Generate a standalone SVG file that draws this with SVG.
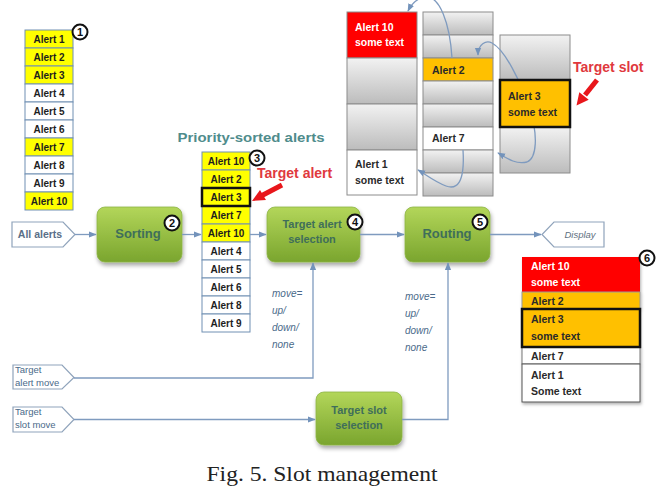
<svg xmlns="http://www.w3.org/2000/svg" width="660" height="486" viewBox="0 0 660 486">
<defs>
<linearGradient id="gg" x1="0" y1="0" x2="0" y2="1"><stop offset="0" stop-color="#b3d65a"/><stop offset="1" stop-color="#7aa52e"/></linearGradient>
<linearGradient id="gray" x1="0" y1="0" x2="0" y2="1"><stop offset="0" stop-color="#f2f2f2"/><stop offset="1" stop-color="#bcbcbc"/></linearGradient>
<filter id="sh" x="-20%" y="-20%" width="150%" height="160%"><feDropShadow dx="1" dy="3" stdDeviation="2" flood-color="#000" flood-opacity="0.35"/></filter>
<filter id="sh2" x="-20%" y="-20%" width="150%" height="150%"><feDropShadow dx="1" dy="2" stdDeviation="1.5" flood-color="#000" flood-opacity="0.3"/></filter>
<marker id="ar" viewBox="0 0 10 10" refX="9" refY="5" markerWidth="6" markerHeight="6" orient="auto-start-reverse"><path d="M0,1 L10,5 L0,9 z" fill="#7393bb"/></marker>
<style>
.lst{stroke:#7190b3;stroke-width:1}
.y{fill:#ffff00}.w{fill:#fff}.or{fill:#ffc000}.rd{fill:#ff0000}
.t{font-family:"Liberation Sans",Arial,sans-serif;font-weight:bold;font-size:10px;fill:#1e1e1e;text-anchor:middle}
.tl{font-family:"Liberation Sans",Arial,sans-serif;font-weight:bold;font-size:10.5px;fill:#2a2a2a}
.tw{fill:#fff}
.grn{fill:url(#gg);stroke:#8db445;stroke-width:0.8;filter:url(#sh)}
.gt{font-family:"Liberation Sans",Arial,sans-serif;font-weight:bold;fill:#3f6e5a;text-anchor:middle}
.num circle{fill:#fff;stroke:#111;stroke-width:2}
.num text{font-family:"Liberation Sans",Arial,sans-serif;font-weight:bold;font-size:11px;fill:#111;text-anchor:middle}
.con{fill:none;stroke:#7f9bbf;stroke-width:1.3}
.cell{fill:url(#gray);stroke:#8c8c8c;stroke-width:1}
.tag{fill:#fff;stroke:#8fa3bb;stroke-width:1.2}
.tg{font-family:"Liberation Sans",Arial,sans-serif;font-size:9.5px;fill:#4a6a8a}
.mv{font-family:"Liberation Sans",Arial,sans-serif;font-style:italic;font-size:10px;fill:#4a6a8a}
.red{font-family:"Liberation Sans",Arial,sans-serif;font-weight:bold;font-size:14px;fill:#e0393e}
</style>
</defs>
<rect width="660" height="486" fill="#fff"/>

<g id="list-all">
<rect class="lst y" x="25" y="30" width="48" height="18"/><text class="t" x="49" y="42.5">Alert 1</text>
<rect class="lst y" x="25" y="48" width="48" height="18"/><text class="t" x="49" y="60.5">Alert 2</text>
<rect class="lst y" x="25" y="66" width="48" height="18"/><text class="t" x="49" y="78.5">Alert 3</text>
<rect class="lst w" x="25" y="84" width="48" height="18"/><text class="t" x="49" y="96.5">Alert 4</text>
<rect class="lst w" x="25" y="102" width="48" height="18"/><text class="t" x="49" y="114.5">Alert 5</text>
<rect class="lst w" x="25" y="120" width="48" height="18"/><text class="t" x="49" y="132.5">Alert 6</text>
<rect class="lst y" x="25" y="138" width="48" height="18"/><text class="t" x="49" y="150.5">Alert 7</text>
<rect class="lst w" x="25" y="156" width="48" height="18"/><text class="t" x="49" y="168.5">Alert 8</text>
<rect class="lst w" x="25" y="174" width="48" height="18"/><text class="t" x="49" y="186.5">Alert 9</text>
<rect class="lst y" x="25" y="192" width="48" height="18"/><text class="t" x="49" y="204.5">Alert 10</text>
<g class="num"><circle cx="80" cy="32" r="7.5"/><text x="80" y="36">1</text></g>
</g>

<g id="title-sorted">
<text x="251" y="142" font-family="Liberation Sans, Arial, sans-serif" font-weight="bold" font-size="12.5" fill="#4f8c8c" text-anchor="middle" textLength="147" lengthAdjust="spacingAndGlyphs">Priority-sorted  alerts</text>
</g>

<g id="list-sorted">
<rect class="lst y" x="202" y="152" width="48" height="18"/><text class="t" x="226" y="164.5">Alert 10</text>
<rect class="lst y" x="202" y="170" width="48" height="18"/><text class="t" x="226" y="182.5">Alert 2</text>
<rect class="lst y" x="202" y="188" width="48" height="18"/>
<rect class="lst y" x="202" y="206" width="48" height="18"/><text class="t" x="226" y="218.5">Alert 7</text>
<rect class="lst y" x="202" y="224" width="48" height="18"/><text class="t" x="226" y="236.5">Alert 10</text>
<rect class="lst w" x="202" y="242" width="48" height="18"/><text class="t" x="226" y="254.5">Alert 4</text>
<rect class="lst w" x="202" y="260" width="48" height="18"/><text class="t" x="226" y="272.5">Alert 5</text>
<rect class="lst w" x="202" y="278" width="48" height="18"/><text class="t" x="226" y="290.5">Alert 6</text>
<rect class="lst w" x="202" y="296" width="48" height="18"/><text class="t" x="226" y="308.5">Alert 8</text>
<rect class="lst w" x="202" y="314" width="48" height="18"/><text class="t" x="226" y="326.5">Alert 9</text>
<rect x="202" y="188" width="48" height="18" fill="none" stroke="#111" stroke-width="2.5"/><text class="t" x="226" y="200.5">Alert 3</text>
<g class="num"><circle cx="257" cy="158" r="7.5"/><text x="257" y="162">3</text></g>
</g>

<g id="target-alert-label">
<text class="red" x="257" y="178">Target alert</text>
<line x1="282" y1="185" x2="262" y2="195.5" stroke="#e8161b" stroke-width="5"/>
<polygon points="252,201 266,200 260,190" fill="#e8161b"/>
</g>

<g id="all-alerts">
<polygon class="tag" points="12,222 63,222 75,234.5 63,247 12,247"/>
<text x="40" y="238" font-family="Liberation Sans, Arial, sans-serif" font-weight="bold" font-size="10.5" fill="#5a6f88" text-anchor="middle">All alerts</text>
</g>

<g id="sorting">
<rect class="grn" x="97" y="207" width="85" height="55" rx="8"/>
<text class="gt" x="138" y="238" font-size="13">Sorting</text>
<g class="num"><circle cx="172" cy="223" r="7.5"/><text x="172" y="227">2</text></g>
</g>

<g id="target-alert-selection">
<rect class="grn" x="267" y="207" width="93" height="55" rx="8"/>
<text class="gt" x="312" y="228" font-size="11">Target alert</text>
<text class="gt" x="312" y="243" font-size="11">selection</text>
<g class="num"><circle cx="355" cy="222" r="7.5"/><text x="355" y="226">4</text></g>
</g>

<g id="routing">
<rect class="grn" x="405" y="207" width="85" height="55" rx="8"/>
<text class="gt" x="447" y="238" font-size="13">Routing</text>
<g class="num"><circle cx="480" cy="222" r="7.5"/><text x="480" y="226">5</text></g>
</g>

<g id="display">
<polygon class="tag" points="554,222 604,222 604,247 554,247 542,234.5"/>
<text x="580" y="238" font-family="Liberation Sans, Arial, sans-serif" font-style="italic" font-size="9.5" fill="#607080" text-anchor="middle">Display</text>
</g>

<g id="target-alert-move">
<polygon class="tag" points="13,365 62,365 74,377.5 62,389 13,389"/>
<text class="tg" x="15" y="373">Target</text>
<text class="tg" x="15" y="386">alert move</text>
</g>

<g id="target-slot-move">
<polygon class="tag" points="13,407 62,407 74,419.5 62,432 13,432"/>
<text class="tg" x="15" y="415">Target</text>
<text class="tg" x="15" y="428">slot move</text>
</g>

<g id="target-slot-selection">
<rect class="grn" x="316" y="392" width="86" height="53" rx="8"/>
<text class="gt" x="359" y="414" font-size="11">Target slot</text>
<text class="gt" x="359" y="429" font-size="11">selection</text>
</g>

<g id="move-labels">
<text class="mv" x="272" y="297">move=</text>
<text class="mv" x="272" y="314">up/</text>
<text class="mv" x="272" y="331">down/</text>
<text class="mv" x="272" y="348">none</text>
<text class="mv" x="405" y="300">move=</text>
<text class="mv" x="405" y="317">up/</text>
<text class="mv" x="405" y="334">down/</text>
<text class="mv" x="405" y="351">none</text>
</g>

<g id="connectors">
<line class="con" x1="75" y1="234.5" x2="96" y2="234.5" marker-end="url(#ar)"/>
<line class="con" x1="182" y1="234.5" x2="201" y2="234.5" marker-end="url(#ar)"/>
<line class="con" x1="250" y1="234.5" x2="266" y2="234.5" marker-end="url(#ar)"/>
<line class="con" x1="360" y1="234.5" x2="404" y2="234.5" marker-end="url(#ar)"/>
<line class="con" x1="490" y1="234.5" x2="541" y2="234.5" marker-end="url(#ar)"/>
<polyline class="con" points="74,378 313,378 313,263" marker-end="url(#ar)"/>
<line class="con" x1="74" y1="419.5" x2="315" y2="419.5" marker-end="url(#ar)"/>
<polyline class="con" points="402,419.5 448,419.5 448,263" marker-end="url(#ar)"/>
</g>

<g id="slots-col1">
<rect class="rd" x="347" y="12" width="70" height="46" stroke="#8c8c8c"/>
<rect class="cell" x="347" y="58" width="70" height="46"/>
<rect class="cell" x="347" y="104" width="70" height="46"/>
<rect class="w" x="347" y="150" width="70" height="45" stroke="#8c8c8c"/>
<text class="tl tw" x="355" y="31">Alert 10</text>
<text class="tl tw" x="355" y="46">some text</text>
<text class="tl" x="355" y="168">Alert 1</text>
<text class="tl" x="355" y="184">some text</text>
</g>

<g id="slots-col2">
<rect class="cell" x="423" y="12" width="70" height="23"/>
<rect class="cell" x="423" y="35" width="70" height="23"/>
<rect class="or" x="423" y="58" width="70" height="23" stroke="#8c8c8c"/>
<rect class="cell" x="423" y="81" width="70" height="23"/>
<rect class="cell" x="423" y="104" width="70" height="23"/>
<rect class="w" x="423" y="127" width="70" height="23" stroke="#8c8c8c"/>
<rect class="cell" x="423" y="150" width="70" height="23"/>
<rect class="cell" x="423" y="173" width="70" height="23"/>
<text class="tl" x="432" y="74">Alert 2</text>
<text class="tl" x="432" y="142">Alert 7</text>
</g>

<g id="slots-col3">
<rect class="cell" x="500" y="35" width="70" height="45"/>
<rect class="cell" x="500" y="127" width="70" height="46"/>
</g>

<g id="slot-curves">
<path class="con" d="M452,58 C450,25 440,-6 424,-3 C416,-1 411,5 408,11" marker-end="url(#ar)"/>
<path class="con" d="M478,55 C478,44 486,40 492,43 C505,50 520,80 530,110 C538,135 537,158 527,162 C515,165 505,157 498,153" marker-start="url(#ar)" marker-end="url(#ar)"/>
<path class="con" d="M463,150 C465,183 457,190 446,186 C435,182 425,174 418,170" marker-end="url(#ar)"/>
</g>

<g id="slot-target">
<rect class="or" x="500" y="80" width="70" height="47" stroke="#111" stroke-width="2.5"/>
<text class="tl" x="508" y="100">Alert 3</text>
<text class="tl" x="508" y="116">some text</text>
</g>

<g id="target-slot-label">
<text class="red" x="573" y="72">Target slot</text>
<line x1="597" y1="80" x2="585" y2="95" stroke="#e8161b" stroke-width="5"/>
<polygon points="576.5,105.5 588.7,99.8 579.3,92.2" fill="#e8161b"/>
</g>

<g id="display-list">
<g filter="url(#sh2)">
<rect class="rd" x="522" y="257" width="118" height="35"/>
<rect class="or" x="522" y="292" width="118" height="17" stroke="#999"/>
<rect class="or" x="522" y="309" width="118" height="38"/>
<rect class="w" x="522" y="347" width="118" height="17" stroke="#777"/>
<rect class="w" x="522" y="364" width="118" height="38" stroke="#555"/>
</g>
<rect x="522" y="309" width="118" height="38" fill="none" stroke="#111" stroke-width="2.5"/>
<text class="tl tw" x="531" y="270">Alert 10</text>
<text class="tl tw" x="531" y="286">some text</text>
<text class="tl" x="531" y="305" font-size="9.5">Alert 2</text>
<text class="tl" x="531" y="323">Alert 3</text>
<text class="tl" x="531" y="340">some text</text>
<text class="tl" x="531" y="360" font-size="9.5" fill="#444">Alert 7</text>
<text class="tl" x="531" y="379">Alert 1</text>
<text class="tl" x="531" y="395">Some text</text>
<g class="num"><circle cx="647" cy="258" r="7.5"/><text x="647" y="262">6</text></g>
</g>

<text x="322" y="481" font-family="Liberation Serif, Times New Roman, serif" font-size="22" fill="#222" text-anchor="middle" textLength="231" lengthAdjust="spacingAndGlyphs">Fig. 5. Slot management</text>
</svg>
